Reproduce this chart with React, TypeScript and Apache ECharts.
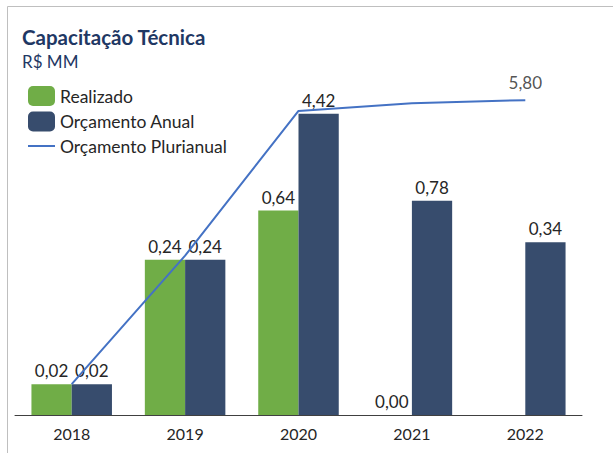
import React, { useEffect, useRef } from "react";
import * as echarts from "echarts";

const years = ["2018", "2019", "2020", "2021", "2022"];
const realizado: (number | null)[] = [0.02, 0.24, 0.64, 0, null];
const orcamentoAnual: (number | null)[] = [0.02, 0.24, 4.42, 0.78, 0.34];
const orcamentoPlurianual: number[] = [0.02, 0.26, 4.68, 5.46, 5.8];

const Y_MIN = 0.0108;
const Y_MAX = 10.8;

const FONT = "Lato";
const GREEN = "#70AD47";
const NAVY = "#374C6D";
const LINE = "#4472C4";
const TEXT = "#262626";

const fmt = (v: number | null) => (v == null ? "" : v.toFixed(2).replace(".", ","));

export default function App() {
  const ref = useRef<HTMLDivElement>(null);
  useEffect(() => {
    document.body.style.margin = "0";
    const chart = echarts.init(ref.current!, null, { renderer: "svg" });
    const barLabel = (arr: (number | null)[]) => ({
      show: true,
      position: "top" as const,
      distance: 5,
      fontFamily: FONT,
      fontSize: 17,
      color: TEXT,
      formatter: (p: any) => fmt(arr[p.dataIndex]),
    });
    const toLog = (arr: (number | null)[]) =>
      arr.map((v) => (v == null ? "-" : v <= 0 ? Y_MIN : v));
    const last = orcamentoPlurianual.length - 1;
    chart.setOption({
      animation: false,
      textStyle: { fontFamily: FONT },
      grid: { left: 15, right: 31, top: 69, bottom: 38, containLabel: false },
      legend: {
        orient: "vertical",
        left: 27,
        top: 86,
        padding: 0,
        itemWidth: 27,
        itemHeight: 20,
        itemGap: 5.5,
        textStyle: { fontFamily: FONT, fontSize: 17.5, color: TEXT },
        data: [
          "Realizado",
          "Orçamento Anual",
          { name: "Orçamento Plurianual", itemStyle: { opacity: 0 } },
        ],
      },
      xAxis: {
        type: "category",
        data: years,
        axisTick: { show: false },
        axisLine: { lineStyle: { color: "#404040", width: 1 } },
        axisLabel: { fontFamily: FONT, fontSize: 16, color: TEXT, margin: 10 },
      },
      yAxis: {
        type: "log",
        logBase: 10,
        min: Y_MIN,
        max: Y_MAX,
        startValue: Y_MIN,
        show: false,
        splitLine: { show: false },
      },
      graphic: [
        {
          type: "rect",
          shape: { x: 7.5, y: 6.5, width: 700, height: 600 },
          style: { fill: "none", stroke: "#BFBFBF", lineWidth: 1 },
          silent: true,
        },
        {
          type: "text",
          x: 22,
          y: 37,
          style: {
            text: "Capacitação Técnica",
            font: `bold 20.5px ${FONT}`,
            fill: "#1F3864",
            verticalAlign: "middle",
          },
        },
        {
          type: "text",
          x: 22,
          y: 61,
          style: {
            text: "R$ MM",
            font: `17px ${FONT}`,
            fill: "#1F3864",
            verticalAlign: "middle",
          },
        },
      ],
      series: [
        {
          name: "Realizado",
          type: "bar",
          data: toLog(realizado),
          barGap: "0%",
          barCategoryGap: "29%",
          itemStyle: { color: GREEN },
          label: barLabel(realizado),
        },
        {
          name: "Orçamento Anual",
          type: "bar",
          data: toLog(orcamentoAnual),
          itemStyle: { color: NAVY },
          label: barLabel(orcamentoAnual),
        },
        {
          name: "Orçamento Plurianual",
          type: "line",
          data: orcamentoPlurianual,
          symbol: "none",
          lineStyle: { color: LINE, width: 2 },
          itemStyle: { color: LINE },
          z: 5,
        },
        {
          name: "plurianual-label",
          type: "scatter",
          data: orcamentoPlurianual.map((v, i) => (i === last ? v : "-")),
          symbolSize: 0,
          silent: true,
          label: {
            show: true,
            position: "top",
            distance: 9,
            fontFamily: FONT,
            fontSize: 17,
            color: TEXT,
            formatter: (p: any) => fmt(orcamentoPlurianual[p.dataIndex]),
          },
          z: 6,
        },
      ],
    });
    return () => chart.dispose();
  }, []);
  return <div ref={ref} style={{ width: 613, height: 453 }} />;
}
